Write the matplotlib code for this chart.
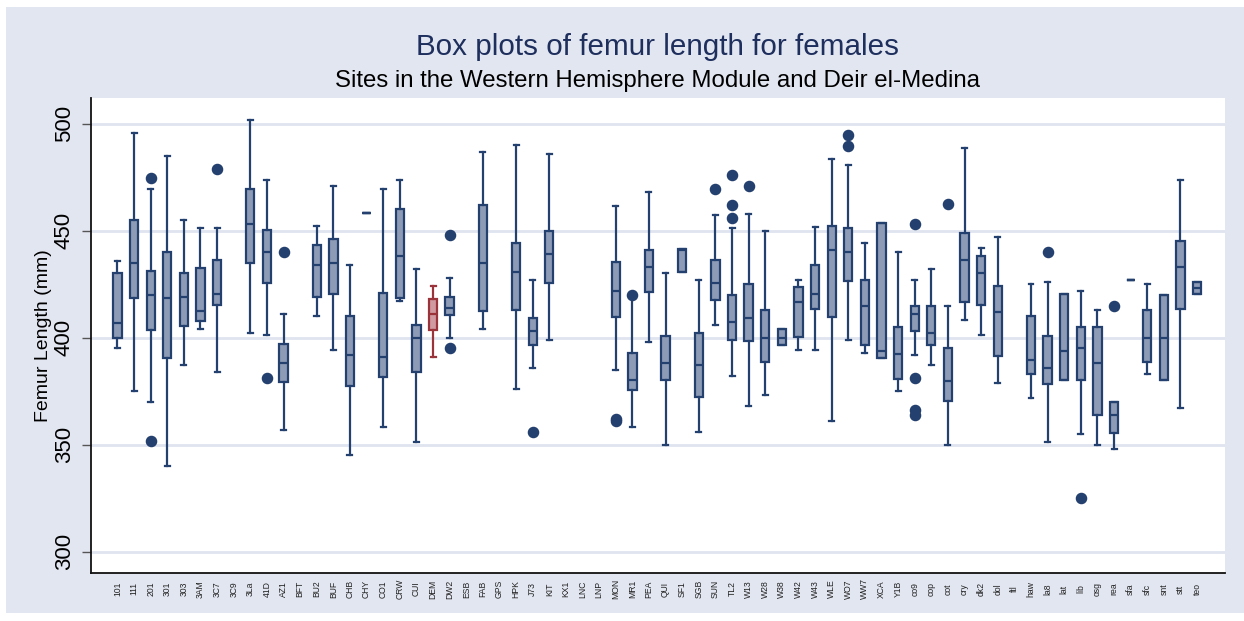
import matplotlib
matplotlib.use("Agg")
import matplotlib.pyplot as plt
from matplotlib.patches import Rectangle

plt.rcParams["font.family"] = ["Liberation Sans", "DejaVu Sans"]

# Site codes along the x axis
sites = ["101", "111", "201", "301", "303", "3AM", "3C7", "3C9", "3La", "41D",
         "AZ1", "BFT", "BU2", "BUF", "CHB", "CHY", "CO1", "CRW", "CUI", "DEM",
         "DW2", "ESB", "FAB", "GPS", "HPK", "J73", "KIT", "KX1", "LNC", "LNP",
         "MON", "MR1", "PEA", "QUI", "SF1", "SGB", "SUN", "TL2", "W13", "W28",
         "W38", "W42", "W43", "WLE", "WO7", "WW7", "XCA", "Y1B", "co9", "cop",
         "cot", "cry", "dk2", "dol", "ftl", "haw", "la8", "lat", "lib", "osg",
         "rea", "sfa", "sfc", "snt", "stt", "teo"]

# Box-plot summaries (mm); None marks a site with no female femur data
whislo = [395, 375, 370, 340, 387, 404, 384, None, 402, 401,
          357, None, 410, 394, 345, 458, 358, 417, 351, 391,
          400, None, 404, None, 376, 386, 399, None, None, None,
          385, 358, 398, 350, 430.5, 356, 406, 382, 368, 373,
          396.4, 394, 394, 361, 399, 393, 390.5, 375, 392, 387,
          350, 408, 401, 379, None, 372, 351, 380, 355, 350,
          348, 426.8, 383, 380, 367, 420.4]
q1 = [400, 418.4, 403.4, 390.5, 405.3, 407.6, 415.1, None, 435, 425.4,
      379.1, None, 419.2, 420.2, 377.3, 458, 381.6, 418.4, 383.8, 403.4,
      410.4, None, 412.3, None, 412.8, 396.4, 425.4, None, None, None,
      409.5, 375.5, 421.2, 380.2, 430.5, 372.4, 417.4, 398.9, 398.4, 388.5,
      396.4, 400.2, 413.2, 409.5, 426.3, 396.4, 390.5, 380.7, 403.1, 396.4,
      370.4, 416.5, 415.1, 391.3, None, 382.9, 378.3, 380.2, 380.2, 363.6,
      355.6, 426.8, 388.6, 380, 413.2, 420.4]
med = [407, 434.7, 419.8, 418.4, 418.8, 412.5, 420.4, None, 453, 439.9,
       388.2, None, 434, 434.7, 391.7, 458, 391, 438.2, 400, 411.1,
       413.9, None, 434.7, None, 430.5, 403.1, 438.9, None, None, None,
       421.7, 380.4, 433, 388.2, 441, 387.2, 425.5, 407.3, 409, 400,
       400, 416.7, 420.2, 440.8, 439.9, 414.6, 393.8, 392.4, 411.1, 402,
       379.8, 436.1, 430.1, 412, None, 389.6, 385.7, 393.8, 395.2, 388.2,
       364, 426.8, 400, 400, 433, 423.2]
q3 = [430.2, 454.8, 431.2, 439.9, 430.2, 432.6, 436.1, None, 469.6, 450.2,
      397, None, 443.1, 446, 410, 458, 420.9, 460, 405.8, 417.9,
      419, None, 461.8, None, 444.4, 409, 450, None, None, None,
      435.2, 392.8, 440.8, 400.6, 441.6, 402.2, 436.1, 419.8, 425.1, 412.8,
      403.9, 423.5, 433.8, 452, 451.1, 426.8, 453.7, 405, 414.6, 414.6,
      395.2, 448.8, 438.2, 424.1, None, 410.1, 400.8, 420.4, 405, 405,
      370, 426.8, 412.8, 420, 445, 425.9]
whishi = [436, 495.8, 469.6, 485, 454.8, 451.1, 451, None, 501.7, 473.8,
          411.1, None, 452, 471, 434, 458, 469.6, 473.8, 432, 424,
          427.7, None, 486.9, None, 489.9, 426.8, 486, None, None, None,
          461.7, 418.5, 467.9, 430.1, 441.6, 426.8, 457.2, 451.1, 457.9, 450,
          403.9, 426.8, 451.9, 483.6, 480.8, 444.1, 453.7, 439.9, 426.8, 432,
          414.6, 488.8, 441.9, 446.9, None, 425.1, 425.9, 420.4, 421.7, 412.8,
          370, 426.8, 425.1, 420, 473.8, 425.9]
outliers = {
    "201": [474.8, 351.9],
    "3C7": [479],
    "41D": [381.3],
    "AZ1": [439.9],
    "DW2": [447.8, 395.3],
    "J73": [355.9],
    "MON": [362.1, 361.0],
    "MR1": [419.9],
    "SUN": [469.6],
    "TL2": [475.9, 461.8, 455.8],
    "W13": [471],
    "WO7": [494.9, 489.7],
    "co9": [453, 381.3, 366, 363.7],
    "cot": [462.6],
    "la8": [439.9],
    "lib": [324.9],
    "rea": [414.8],
}
highlight = "DEM"

navy = "#24406f"
navy_fill = "#8e9bb6"
red = "#9b343a"
red_fill = "#cf9aa0"

W, H, DPI = 1244, 621, 100
fig = plt.figure(figsize=(W / DPI, H / DPI), dpi=DPI, facecolor="white")
bg = Rectangle((6 / W, 1 - 613 / H), 1 - 6 / W, (613 - 7) / H,
               transform=fig.transFigure, facecolor="#e2e6f0",
               edgecolor="none", zorder=-10)
fig.add_artist(bg)

ax = fig.add_axes([90.7 / W, 1 - 573 / H, (1225 - 90.7) / W, (573 - 97.7) / H])
ax.set_zorder(1)
ax.set_facecolor("white")

positions = list(range(len(sites)))
for i, s in enumerate(sites):
    if whislo[i] is None:
        continue
    stats = [dict(whislo=whislo[i], q1=q1[i], med=med[i], q3=q3[i],
                  whishi=whishi[i], fliers=outliers.get(s, []))]
    edge, fill = (red, red_fill) if s == highlight else (navy, navy_fill)
    ax.bxp(stats, positions=[i], widths=0.5, capwidths=0.3,
           patch_artist=True, manage_ticks=False,
           boxprops=dict(facecolor=fill, edgecolor=edge, linewidth=1.6),
           medianprops=dict(color=edge, linewidth=1.6),
           whiskerprops=dict(color=edge, linewidth=1.6),
           capprops=dict(color=edge, linewidth=1.6),
           flierprops=dict(marker="o", markersize=7.3, markerfacecolor=navy,
                           markeredgecolor=navy),
           zorder=3)

ax.set_xlim(-1.61, len(sites) - 1 + 1.68)
ax.set_ylim(290, 512.1)
ax.set_yticks([300, 350, 400, 450, 500])
ax.yaxis.grid(True, color="#dfe4ef", linewidth=2, zorder=0)
ax.set_axisbelow(True)

ax.set_xticks(positions)
ax.set_xticklabels(sites, rotation=90, fontsize=6.2, va="center", ha="center")
ax.tick_params(axis="x", length=0, pad=11.5, colors="#222222")
ax.tick_params(axis="y", length=6.5, width=1, color="#555555", pad=5,
               labelsize=16, labelrotation=90)
for lab in ax.get_yticklabels():
    lab.set_va("center")
    lab.set_ha("right")

for side in ("top", "right"):
    ax.spines[side].set_visible(False)
for side in ("left", "bottom"):
    ax.spines[side].set_linewidth(1.3)
    ax.spines[side].set_color("#111111")

ax.set_ylabel("Femur Length (mm)", fontsize=14, labelpad=1)

cx = (90.7 + 1225) / 2 / W
fig.text(cx, 1 - 55 / H, "Box plots of femur length for females",
         ha="center", va="baseline", fontsize=21.3, color="#1e2f5e")
fig.text(cx, 1 - 87 / H, "Sites in the Western Hemisphere Module and Deir el-Medina",
         ha="center", va="baseline", fontsize=17.3, color="black")

fig.savefig("out.png", dpi=DPI, facecolor=fig.get_facecolor())
